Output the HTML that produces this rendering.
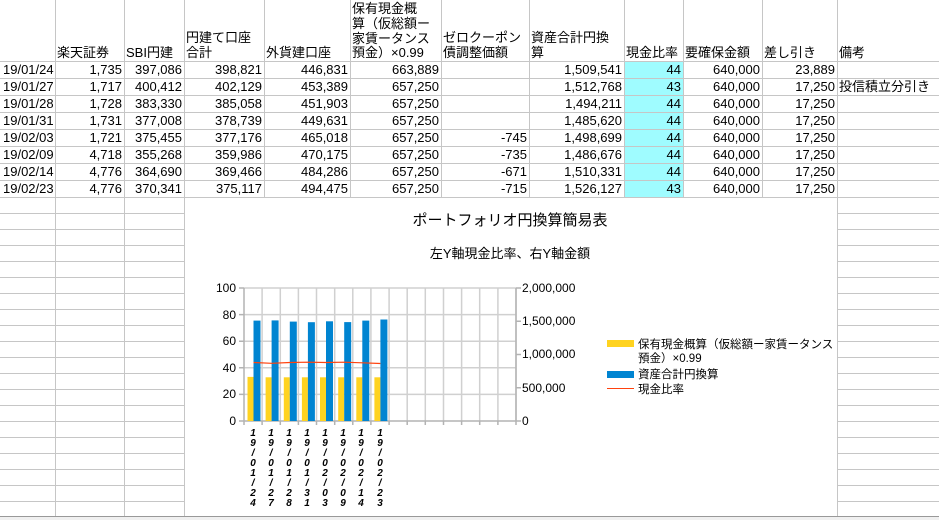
<!DOCTYPE html>
<html><head><meta charset="utf-8"><style>
html,body{margin:0;padding:0;background:#fff;}
svg{display:block;font-family:"Liberation Sans","Noto Sans CJK JP",sans-serif;}
</style></head><body>
<svg width="939" height="520" viewBox="0 0 939 520" xmlns="http://www.w3.org/2000/svg">
<rect width="939" height="520" fill="#fff"/>
<rect x="624" y="61" width="59" height="136" fill="#9ffcff"/>
<g stroke="#c6c6c6" stroke-width="1">
<line x1="55.5" y1="0" x2="55.5" y2="517"/><line x1="124.5" y1="0" x2="124.5" y2="517"/><line x1="184.5" y1="0" x2="184.5" y2="517"/>
<line x1="264.5" y1="0" x2="264.5" y2="197"/><line x1="350.5" y1="0" x2="350.5" y2="197"/><line x1="441.5" y1="0" x2="441.5" y2="197"/>
<line x1="529.5" y1="0" x2="529.5" y2="197"/><line x1="624.5" y1="0" x2="624.5" y2="197"/><line x1="683.5" y1="0" x2="683.5" y2="197"/>
<line x1="762.5" y1="0" x2="762.5" y2="197"/><line x1="837.5" y1="0" x2="837.5" y2="517"/>
<line x1="0" y1="61.5" x2="939" y2="61.5"/><line x1="0" y1="78.5" x2="939" y2="78.5"/><line x1="0" y1="95.5" x2="939" y2="95.5"/>
<line x1="0" y1="112.5" x2="939" y2="112.5"/><line x1="0" y1="129.5" x2="939" y2="129.5"/><line x1="0" y1="146.5" x2="939" y2="146.5"/>
<line x1="0" y1="163.5" x2="939" y2="163.5"/><line x1="0" y1="180.5" x2="939" y2="180.5"/><line x1="0" y1="197.5" x2="939" y2="197.5"/>
</g>
<g stroke="#c6c6c6">
<path d="M0 213.5H188M837 213.5H939M0 229.5H188M837 229.5H939M0 245.5H188M837 245.5H939M0 261.5H188M837 261.5H939M0 277.5H188M837 277.5H939M0 293.5H188M837 293.5H939M0 309.5H188M837 309.5H939M0 325.5H188M837 325.5H939M0 341.5H188M837 341.5H939M0 357.5H188M837 357.5H939M0 373.5H188M837 373.5H939M0 389.5H188M837 389.5H939M0 405.5H188M837 405.5H939M0 421.5H188M837 421.5H939M0 437.5H188M837 437.5H939M0 453.5H188M837 453.5H939M0 469.5H188M837 469.5H939M0 485.5H188M837 485.5H939M0 501.5H188M837 501.5H939"/>
</g>
<rect x="0" y="516" width="939" height="4" fill="#f0f0f0"/>
<line x1="0" y1="516.5" x2="939" y2="516.5" stroke="#999"/>
<g font-size="13" fill="#000">
<text x="57" y="57">楽天証券</text><text x="126" y="57">SBI円建</text>
<text x="186" y="42">円建て口座</text><text x="186" y="57">合計</text>
<text x="266" y="57">外貨建口座</text>
<text x="352" y="13">保有現金概</text><text x="352" y="28">算（仮総額ー</text><text x="352" y="43">家賃ータンス</text><text x="352" y="57">預金）×0.99</text>
<text x="443" y="42">ゼロクーポン</text><text x="443" y="57">債調整価額</text>
<text x="531" y="42">資産合計円換</text><text x="531" y="57">算</text>
<text x="626" y="57">現金比率</text><text x="685" y="57">要確保金額</text><text x="764" y="57">差し引き</text><text x="839" y="57">備考</text>
</g>
<g font-size="13" fill="#000">
<g text-anchor="start"><text x="3" y="74">19/01/24</text><text x="3" y="91">19/01/27</text><text x="3" y="108">19/01/28</text><text x="3" y="125">19/01/31</text><text x="3" y="142">19/02/03</text><text x="3" y="159">19/02/09</text><text x="3" y="176">19/02/14</text><text x="3" y="193">19/02/23</text>
<text x="839" y="91">投信積立分引き</text></g>
<g text-anchor="end">
<text x="122" y="74">1,735</text><text x="122" y="91">1,717</text><text x="122" y="108">1,728</text><text x="122" y="125">1,731</text><text x="122" y="142">1,721</text><text x="122" y="159">4,718</text><text x="122" y="176">4,776</text><text x="122" y="193">4,776</text>
<text x="182" y="74">397,086</text><text x="182" y="91">400,412</text><text x="182" y="108">383,330</text><text x="182" y="125">377,008</text><text x="182" y="142">375,455</text><text x="182" y="159">355,268</text><text x="182" y="176">364,690</text><text x="182" y="193">370,341</text>
<text x="262" y="74">398,821</text><text x="262" y="91">402,129</text><text x="262" y="108">385,058</text><text x="262" y="125">378,739</text><text x="262" y="142">377,176</text><text x="262" y="159">359,986</text><text x="262" y="176">369,466</text><text x="262" y="193">375,117</text>
<text x="348" y="74">446,831</text><text x="348" y="91">453,389</text><text x="348" y="108">451,903</text><text x="348" y="125">449,631</text><text x="348" y="142">465,018</text><text x="348" y="159">470,175</text><text x="348" y="176">484,286</text><text x="348" y="193">494,475</text>
<text x="439" y="74">663,889</text><text x="439" y="91">657,250</text><text x="439" y="108">657,250</text><text x="439" y="125">657,250</text><text x="439" y="142">657,250</text><text x="439" y="159">657,250</text><text x="439" y="176">657,250</text><text x="439" y="193">657,250</text>
<text x="527" y="142">-745</text><text x="527" y="159">-735</text><text x="527" y="176">-671</text><text x="527" y="193">-715</text>
<text x="622" y="74">1,509,541</text><text x="622" y="91">1,512,768</text><text x="622" y="108">1,494,211</text><text x="622" y="125">1,485,620</text><text x="622" y="142">1,498,699</text><text x="622" y="159">1,486,676</text><text x="622" y="176">1,510,331</text><text x="622" y="193">1,526,127</text>
<text x="681" y="74">44</text><text x="681" y="91">43</text><text x="681" y="108">44</text><text x="681" y="125">44</text><text x="681" y="142">44</text><text x="681" y="159">44</text><text x="681" y="176">44</text><text x="681" y="193">43</text>
<text x="760" y="74">640,000</text><text x="760" y="91">640,000</text><text x="760" y="108">640,000</text><text x="760" y="125">640,000</text><text x="760" y="142">640,000</text><text x="760" y="159">640,000</text><text x="760" y="176">640,000</text><text x="760" y="193">640,000</text>
<text x="835" y="74">23,889</text><text x="835" y="91">17,250</text><text x="835" y="108">17,250</text><text x="835" y="125">17,250</text><text x="835" y="142">17,250</text><text x="835" y="159">17,250</text><text x="835" y="176">17,250</text><text x="835" y="193">17,250</text>
</g></g>
<!-- chart -->
<rect x="185" y="198" width="652" height="318" fill="#fff"/>
<text x="510" y="225" font-size="15" text-anchor="middle">ポートフォリオ円換算簡易表</text>
<text x="510" y="258" font-size="13" text-anchor="middle">左Y軸現金比率、右Y軸金額</text>
<g stroke="#d0d0d0" stroke-width="1.5">
<path d="M244 288H516M244 314.6H516M244 341.2H516M244 367.8H516M244 394.4H516"/>
<path d="M262.1 288V421M280.3 288V421M298.4 288V421M316.5 288V421M334.7 288V421M352.8 288V421M370.9 288V421M389.1 288V421M407.2 288V421M425.3 288V421M443.5 288V421M461.6 288V421M479.7 288V421M497.9 288V421M516 288V421"/>
</g>
<g stroke="#b3b3b3" stroke-width="1.5">
<path d="M244 288V425M239 288H244M239 314.6H244M239 341.2H244M239 367.8H244M239 394.4H244M239 421H244M244 421H521M516 288V421M516 288H521M516 321.25H521M516 354.5H521M516 387.75H521"/>
<path d="M262.1 421V425M280.3 421V425M298.4 421V425M316.5 421V425M334.7 421V425M352.8 421V425M370.9 421V425M389.1 421V425M407.2 421V425M425.3 421V425M443.5 421V425M461.6 421V425M479.7 421V425M497.9 421V425M516 421V425"/>
</g>
<g fill="#ffd320">
<rect x="247.5" y="376.9" width="6" height="44.1"/><rect x="265.6" y="377.3" width="6" height="43.7"/><rect x="283.8" y="377.3" width="6" height="43.7"/><rect x="301.9" y="377.3" width="6" height="43.7"/><rect x="320" y="377.3" width="6" height="43.7"/><rect x="338.2" y="377.3" width="6" height="43.7"/><rect x="356.3" y="377.3" width="6" height="43.7"/><rect x="374.4" y="377.3" width="6" height="43.7"/>
</g>
<g fill="#0084d1">
<rect x="253.5" y="320.6" width="7" height="100.4"/><rect x="271.6" y="320.4" width="7" height="100.6"/><rect x="289.8" y="321.6" width="7" height="99.4"/><rect x="307.9" y="322.2" width="7" height="98.8"/><rect x="326" y="321.3" width="7" height="99.7"/><rect x="344.2" y="322.1" width="7" height="98.9"/><rect x="362.3" y="320.6" width="7" height="100.4"/><rect x="380.4" y="319.5" width="7" height="101.5"/>
</g>
<polyline points="253.5,362.5 271.6,363.3 289.8,362.5 307.9,362.2 326,362.5 344.2,362.2 362.3,362.8 380.4,363.5" fill="none" stroke="#ff420e" stroke-width="1.2"/>
<g font-size="12" text-anchor="end"><text x="236" y="292">100</text><text x="236" y="319">80</text><text x="236" y="345">60</text><text x="236" y="372">40</text><text x="236" y="398">20</text><text x="236" y="425">0</text></g>
<g font-size="12"><text x="522" y="292">2,000,000</text><text x="522" y="325">1,500,000</text><text x="522" y="358">1,000,000</text><text x="522" y="392">500,000</text><text x="522" y="425">0</text></g>
<g font-size="10" font-weight="bold" font-style="italic" text-anchor="middle">
<text x="253" y="436"><tspan x="253">1</tspan><tspan x="253" dy="10">9</tspan><tspan x="253" dy="10">/</tspan><tspan x="253" dy="10">0</tspan><tspan x="253" dy="10">1</tspan><tspan x="253" dy="10">/</tspan><tspan x="253" dy="10">2</tspan><tspan x="253" dy="10">4</tspan></text>
<text x="271" y="436"><tspan x="271">1</tspan><tspan x="271" dy="10">9</tspan><tspan x="271" dy="10">/</tspan><tspan x="271" dy="10">0</tspan><tspan x="271" dy="10">1</tspan><tspan x="271" dy="10">/</tspan><tspan x="271" dy="10">2</tspan><tspan x="271" dy="10">7</tspan></text>
<text x="289" y="436"><tspan x="289">1</tspan><tspan x="289" dy="10">9</tspan><tspan x="289" dy="10">/</tspan><tspan x="289" dy="10">0</tspan><tspan x="289" dy="10">1</tspan><tspan x="289" dy="10">/</tspan><tspan x="289" dy="10">2</tspan><tspan x="289" dy="10">8</tspan></text>
<text x="307" y="436"><tspan x="307">1</tspan><tspan x="307" dy="10">9</tspan><tspan x="307" dy="10">/</tspan><tspan x="307" dy="10">0</tspan><tspan x="307" dy="10">1</tspan><tspan x="307" dy="10">/</tspan><tspan x="307" dy="10">3</tspan><tspan x="307" dy="10">1</tspan></text>
<text x="325" y="436"><tspan x="325">1</tspan><tspan x="325" dy="10">9</tspan><tspan x="325" dy="10">/</tspan><tspan x="325" dy="10">0</tspan><tspan x="325" dy="10">2</tspan><tspan x="325" dy="10">/</tspan><tspan x="325" dy="10">0</tspan><tspan x="325" dy="10">3</tspan></text>
<text x="343" y="436"><tspan x="343">1</tspan><tspan x="343" dy="10">9</tspan><tspan x="343" dy="10">/</tspan><tspan x="343" dy="10">0</tspan><tspan x="343" dy="10">2</tspan><tspan x="343" dy="10">/</tspan><tspan x="343" dy="10">0</tspan><tspan x="343" dy="10">9</tspan></text>
<text x="361" y="436"><tspan x="361">1</tspan><tspan x="361" dy="10">9</tspan><tspan x="361" dy="10">/</tspan><tspan x="361" dy="10">0</tspan><tspan x="361" dy="10">2</tspan><tspan x="361" dy="10">/</tspan><tspan x="361" dy="10">1</tspan><tspan x="361" dy="10">4</tspan></text>
<text x="380" y="436"><tspan x="380">1</tspan><tspan x="380" dy="10">9</tspan><tspan x="380" dy="10">/</tspan><tspan x="380" dy="10">0</tspan><tspan x="380" dy="10">2</tspan><tspan x="380" dy="10">/</tspan><tspan x="380" dy="10">2</tspan><tspan x="380" dy="10">3</tspan></text>
</g>
<rect x="607" y="340" width="27" height="7" fill="#ffd320"/>
<rect x="607" y="371" width="27" height="7" fill="#0084d1"/>
<line x1="607" y1="388.5" x2="634" y2="388.5" stroke="#ff420e" stroke-width="1"/>
<g font-size="11.5"><text x="638" y="348">保有現金概算（仮総額ー家賃ータンス</text><text x="638" y="362">預金）×0.99</text><text x="638" y="378">資産合計円換算</text><text x="638" y="393">現金比率</text></g>
</svg>
</body></html>
